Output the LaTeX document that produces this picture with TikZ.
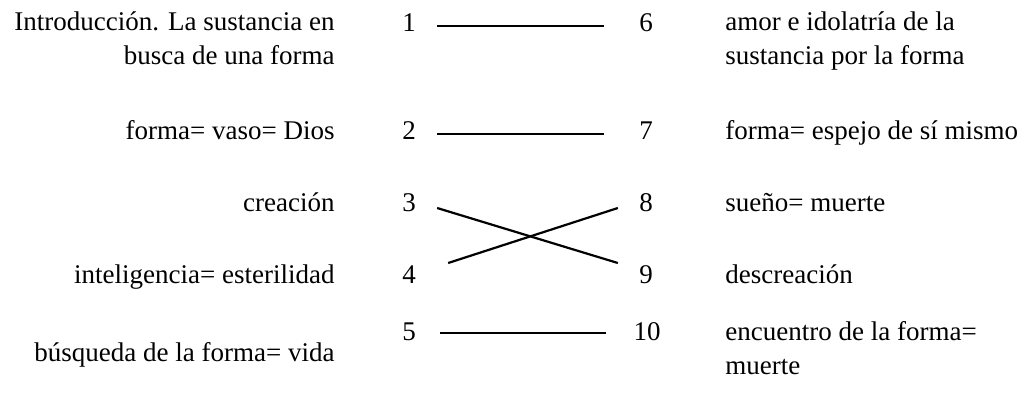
\documentclass[tikz,border=0pt]{standalone}
\usepackage{fontspec}
\setmainfont{Liberation Serif}
\usetikzlibrary{positioning,calc}

\begin{document}
\begin{tikzpicture}[x=0.5pt, y=-0.5pt,
        lefttext/.style={anchor=base east, align=right, inner sep=0pt, font=\fontsize{13.5}{17}\selectfont},
        righttext/.style={anchor=base west, align=left, inner sep=0pt, font=\fontsize{13.5}{17}\selectfont},
        num/.style={anchor=base, inner sep=0pt, font=\fontsize{13.5}{17}\selectfont},
        link/.style={line width=1.1pt}
    ]
    \useasboundingbox (0,0) rectangle (1026,398);

    % === Left column ===
    \node[lefttext] (intro) at (335, 64) {Introducción. La sustancia en\\busca de una forma};
    \node[lefttext] (vaso) at (335, 139) {forma= vaso= Dios};
    \node[lefttext] (creacion) at (335, 211) {creación};
    \node[lefttext] (intel) at (335, 283) {inteligencia= esterilidad};
    \node[lefttext] (busqueda) at (335, 361) {búsqueda de la forma= vida};

    % === Numbers ===
    \node[num] (n1) at (409, 31) {1};
    \node[num] (n2) at (409, 139) {2};
    \node[num] (n3) at (409, 211) {3};
    \node[num] (n4) at (409, 283) {4};
    \node[num] (n5) at (409, 340) {5};

    \node[num] (n6) at (646, 31) {6};
    \node[num] (n7) at (646, 139) {7};
    \node[num] (n8) at (646, 211) {8};
    \node[num] (n9) at (646, 283) {9};
    \node[num] (n10) at (647, 340) {10};

    % === Right column ===
    \node[righttext] (amor) at (725, 64) {amor e idolatría de la\\sustancia por la forma};
    \node[righttext] (espejo) at (725, 139) {forma= espejo de sí mismo};
    \node[righttext] (sueno) at (725, 211) {sueño= muerte};
    \node[righttext] (descreacion) at (725, 283) {descreación};
    \node[righttext] (encuentro) at (725, 374) {encuentro de la forma=\\muerte};

    % === Links ===
    \draw[link] ($(n1.base east)+(21,-5)$) -- ($(n6.base west)+(-35,-5)$);
    \draw[link] ($(n2.base east)+(21,-5)$) -- ($(n7.base west)+(-35,-5)$);
    \draw[link] ($(n3.base east)+(21,-3)$) -- ($(n9.base west)+(-21,-20)$);
    \draw[link] ($(n4.base east)+(32,-20)$) -- ($(n8.base west)+(-21,-3)$);
    \draw[link] ($(n5.base east)+(24,-7)$) -- ($(n10.base west)+(-27,-7)$);

\end{tikzpicture}
\end{document}
